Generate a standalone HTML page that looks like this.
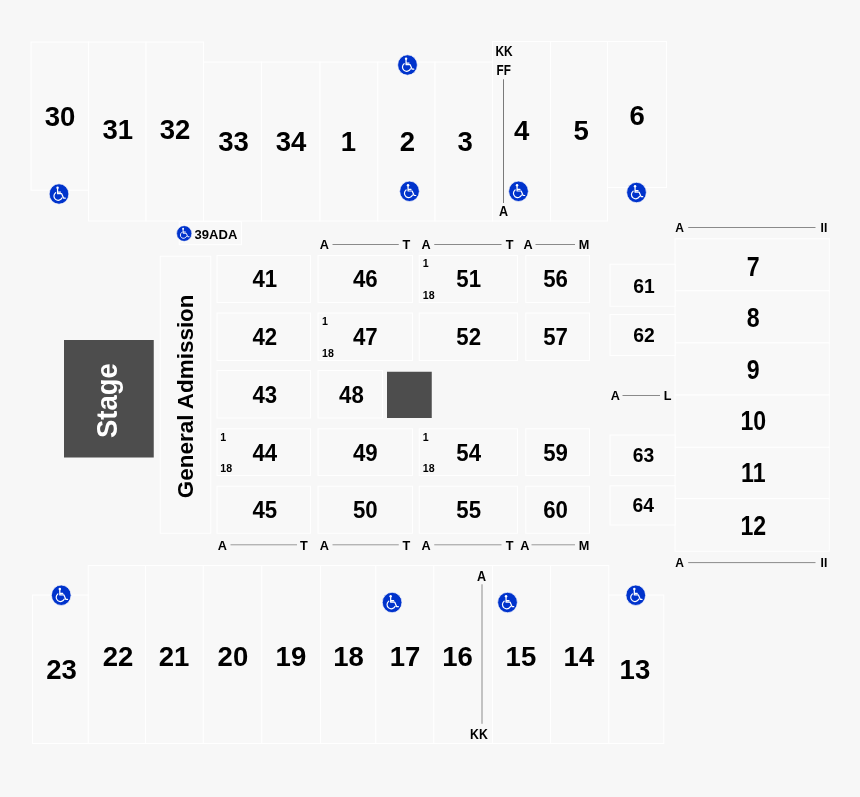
<!DOCTYPE html>
<html lang="en">
<head>
<meta charset="utf-8">
<title>Seating Chart</title>
<style>
html,body{margin:0;padding:0;background:#f7f7f7;}
body{width:860px;height:797px;overflow:hidden;}
svg{display:block;will-change:transform;transform:translateZ(0);}
svg text{font-family:"Liberation Sans",sans-serif;font-weight:bold;}
</style>
</head>
<body>
<svg width="860" height="797" viewBox="0 0 860 797">
<rect width="860" height="797" fill="#f7f7f7"/>
<rect x="31.00" y="42.00" width="57.50" height="148.20" fill="#f8f8f8" stroke="#ffffff" stroke-width="1"/>
<rect x="88.50" y="42.00" width="57.50" height="179.00" fill="#f8f8f8" stroke="#ffffff" stroke-width="1"/>
<rect x="146.00" y="42.00" width="57.50" height="179.00" fill="#f8f8f8" stroke="#ffffff" stroke-width="1"/>
<rect x="203.50" y="62.00" width="58.00" height="159.00" fill="#f8f8f8" stroke="#ffffff" stroke-width="1"/>
<rect x="261.50" y="62.00" width="58.50" height="159.00" fill="#f8f8f8" stroke="#ffffff" stroke-width="1"/>
<rect x="320.00" y="62.00" width="57.75" height="159.00" fill="#f8f8f8" stroke="#ffffff" stroke-width="1"/>
<rect x="377.75" y="62.00" width="57.25" height="159.00" fill="#f8f8f8" stroke="#ffffff" stroke-width="1"/>
<rect x="435.00" y="62.00" width="57.50" height="159.00" fill="#f8f8f8" stroke="#ffffff" stroke-width="1"/>
<rect x="492.50" y="41.50" width="58.00" height="179.50" fill="#f8f8f8" stroke="#ffffff" stroke-width="1"/>
<rect x="550.50" y="41.50" width="57.00" height="179.50" fill="#f8f8f8" stroke="#ffffff" stroke-width="1"/>
<rect x="607.50" y="41.50" width="59.00" height="146.00" fill="#f8f8f8" stroke="#ffffff" stroke-width="1"/>
<text transform="translate(60.00,125.80) scale(1.02,1)" font-size="27.0" fill="#000" text-anchor="middle">30</text>
<text transform="translate(117.75,138.80) scale(1.02,1)" font-size="27.0" fill="#000" text-anchor="middle">31</text>
<text transform="translate(175.00,138.80) scale(1.02,1)" font-size="27.0" fill="#000" text-anchor="middle">32</text>
<text transform="translate(233.50,151.30) scale(1.02,1)" font-size="27.0" fill="#000" text-anchor="middle">33</text>
<text transform="translate(291.10,151.30) scale(1.02,1)" font-size="27.0" fill="#000" text-anchor="middle">34</text>
<text transform="translate(348.50,151.30) scale(1.02,1)" font-size="27.0" fill="#000" text-anchor="middle">1</text>
<text transform="translate(407.50,151.30) scale(1.02,1)" font-size="27.0" fill="#000" text-anchor="middle">2</text>
<text transform="translate(465.10,151.30) scale(1.02,1)" font-size="27.0" fill="#000" text-anchor="middle">3</text>
<text transform="translate(521.60,139.60) scale(1.02,1)" font-size="27.0" fill="#000" text-anchor="middle">4</text>
<text transform="translate(581.25,139.60) scale(1.02,1)" font-size="27.0" fill="#000" text-anchor="middle">5</text>
<text transform="translate(637.25,125.40) scale(1.02,1)" font-size="27.0" fill="#000" text-anchor="middle">6</text>
<rect x="32.50" y="595.00" width="55.75" height="148.50" fill="#f8f8f8" stroke="#ffffff" stroke-width="1"/>
<rect x="88.25" y="565.50" width="57.25" height="178.00" fill="#f8f8f8" stroke="#ffffff" stroke-width="1"/>
<rect x="145.50" y="565.50" width="57.75" height="178.00" fill="#f8f8f8" stroke="#ffffff" stroke-width="1"/>
<rect x="203.25" y="565.50" width="58.50" height="178.00" fill="#f8f8f8" stroke="#ffffff" stroke-width="1"/>
<rect x="261.75" y="565.50" width="58.75" height="178.00" fill="#f8f8f8" stroke="#ffffff" stroke-width="1"/>
<rect x="320.50" y="565.50" width="55.25" height="178.00" fill="#f8f8f8" stroke="#ffffff" stroke-width="1"/>
<rect x="375.75" y="565.50" width="58.00" height="178.00" fill="#f8f8f8" stroke="#ffffff" stroke-width="1"/>
<rect x="433.75" y="565.50" width="58.75" height="178.00" fill="#f8f8f8" stroke="#ffffff" stroke-width="1"/>
<rect x="492.50" y="565.50" width="58.00" height="178.00" fill="#f8f8f8" stroke="#ffffff" stroke-width="1"/>
<rect x="550.50" y="565.50" width="58.25" height="178.00" fill="#f8f8f8" stroke="#ffffff" stroke-width="1"/>
<rect x="608.75" y="595.00" width="55.00" height="148.50" fill="#f8f8f8" stroke="#ffffff" stroke-width="1"/>
<text transform="translate(61.60,678.80) scale(1.02,1)" font-size="27.0" fill="#000" text-anchor="middle">23</text>
<text transform="translate(118.00,665.80) scale(1.02,1)" font-size="27.0" fill="#000" text-anchor="middle">22</text>
<text transform="translate(174.00,665.80) scale(1.02,1)" font-size="27.0" fill="#000" text-anchor="middle">21</text>
<text transform="translate(232.90,665.80) scale(1.02,1)" font-size="27.0" fill="#000" text-anchor="middle">20</text>
<text transform="translate(290.90,665.80) scale(1.02,1)" font-size="27.0" fill="#000" text-anchor="middle">19</text>
<text transform="translate(348.60,665.80) scale(1.02,1)" font-size="27.0" fill="#000" text-anchor="middle">18</text>
<text transform="translate(405.00,665.80) scale(1.02,1)" font-size="27.0" fill="#000" text-anchor="middle">17</text>
<text transform="translate(457.60,665.80) scale(1.02,1)" font-size="27.0" fill="#000" text-anchor="middle">16</text>
<text transform="translate(520.90,665.80) scale(1.02,1)" font-size="27.0" fill="#000" text-anchor="middle">15</text>
<text transform="translate(578.90,665.80) scale(1.02,1)" font-size="27.0" fill="#000" text-anchor="middle">14</text>
<text transform="translate(634.90,678.80) scale(1.02,1)" font-size="27.0" fill="#000" text-anchor="middle">13</text>
<rect x="675.00" y="238.75" width="154.25" height="52.05" fill="#f8f8f8" stroke="#ffffff" stroke-width="1"/>
<rect x="675.00" y="290.80" width="154.25" height="52.10" fill="#f8f8f8" stroke="#ffffff" stroke-width="1"/>
<rect x="675.00" y="342.90" width="154.25" height="52.10" fill="#f8f8f8" stroke="#ffffff" stroke-width="1"/>
<rect x="675.00" y="395.00" width="154.25" height="52.30" fill="#f8f8f8" stroke="#ffffff" stroke-width="1"/>
<rect x="675.00" y="447.30" width="154.25" height="51.40" fill="#f8f8f8" stroke="#ffffff" stroke-width="1"/>
<rect x="675.00" y="498.70" width="154.25" height="52.55" fill="#f8f8f8" stroke="#ffffff" stroke-width="1"/>
<text transform="translate(753.30,275.70) scale(0.857,1)" font-size="27" fill="#000" text-anchor="middle">7</text>
<text transform="translate(753.30,326.50) scale(0.857,1)" font-size="27" fill="#000" text-anchor="middle">8</text>
<text transform="translate(753.30,379.10) scale(0.857,1)" font-size="27" fill="#000" text-anchor="middle">9</text>
<text transform="translate(753.30,430.30) scale(0.857,1)" font-size="27" fill="#000" text-anchor="middle">10</text>
<text transform="translate(753.30,482.10) scale(0.857,1)" font-size="27" fill="#000" text-anchor="middle">11</text>
<text transform="translate(753.30,535.10) scale(0.857,1)" font-size="27" fill="#000" text-anchor="middle">12</text>
<rect x="610.00" y="264.25" width="65.00" height="42.00" fill="#f8f8f8" stroke="#ffffff" stroke-width="1"/>
<text x="644.00" y="292.70" font-size="19.3" fill="#000" text-anchor="middle">61</text>
<rect x="610.00" y="314.50" width="65.00" height="41.00" fill="#f8f8f8" stroke="#ffffff" stroke-width="1"/>
<text x="644.00" y="341.90" font-size="19.3" fill="#000" text-anchor="middle">62</text>
<rect x="610.00" y="435.00" width="65.00" height="40.50" fill="#f8f8f8" stroke="#ffffff" stroke-width="1"/>
<text x="643.60" y="461.90" font-size="19.3" fill="#000" text-anchor="middle">63</text>
<rect x="610.00" y="485.75" width="65.00" height="39.25" fill="#f8f8f8" stroke="#ffffff" stroke-width="1"/>
<text x="643.20" y="511.90" font-size="19.3" fill="#000" text-anchor="middle">64</text>
<rect x="217.00" y="255.50" width="93.50" height="47.00" fill="#f8f8f8" stroke="#ffffff" stroke-width="1"/>
<text transform="translate(264.80,287.30) scale(0.955,1)" font-size="23.3" fill="#000" text-anchor="middle">41</text>
<rect x="217.00" y="313.00" width="93.50" height="47.50" fill="#f8f8f8" stroke="#ffffff" stroke-width="1"/>
<text transform="translate(264.80,344.90) scale(0.955,1)" font-size="23.3" fill="#000" text-anchor="middle">42</text>
<rect x="217.00" y="370.50" width="93.50" height="47.50" fill="#f8f8f8" stroke="#ffffff" stroke-width="1"/>
<text transform="translate(264.80,402.50) scale(0.955,1)" font-size="23.3" fill="#000" text-anchor="middle">43</text>
<rect x="217.00" y="428.75" width="93.50" height="46.75" fill="#f8f8f8" stroke="#ffffff" stroke-width="1"/>
<text transform="translate(264.80,460.90) scale(0.955,1)" font-size="23.3" fill="#000" text-anchor="middle">44</text>
<rect x="217.00" y="486.25" width="93.50" height="47.00" fill="#f8f8f8" stroke="#ffffff" stroke-width="1"/>
<text transform="translate(264.80,518.10) scale(0.955,1)" font-size="23.3" fill="#000" text-anchor="middle">45</text>
<rect x="318.00" y="255.50" width="94.50" height="47.00" fill="#f8f8f8" stroke="#ffffff" stroke-width="1"/>
<text transform="translate(365.30,287.30) scale(0.955,1)" font-size="23.3" fill="#000" text-anchor="middle">46</text>
<rect x="318.00" y="313.00" width="94.50" height="47.50" fill="#f8f8f8" stroke="#ffffff" stroke-width="1"/>
<text transform="translate(365.30,344.90) scale(0.955,1)" font-size="23.3" fill="#000" text-anchor="middle">47</text>
<rect x="318.00" y="370.50" width="64.50" height="47.50" fill="#f8f8f8" stroke="#ffffff" stroke-width="1"/>
<text transform="translate(351.40,402.50) scale(0.955,1)" font-size="23.3" fill="#000" text-anchor="middle">48</text>
<rect x="318.00" y="428.75" width="94.50" height="46.75" fill="#f8f8f8" stroke="#ffffff" stroke-width="1"/>
<text transform="translate(365.30,460.90) scale(0.955,1)" font-size="23.3" fill="#000" text-anchor="middle">49</text>
<rect x="318.00" y="486.25" width="94.50" height="47.00" fill="#f8f8f8" stroke="#ffffff" stroke-width="1"/>
<text transform="translate(365.30,518.10) scale(0.955,1)" font-size="23.3" fill="#000" text-anchor="middle">50</text>
<rect x="419.25" y="255.50" width="98.25" height="47.00" fill="#f8f8f8" stroke="#ffffff" stroke-width="1"/>
<text transform="translate(468.70,287.30) scale(0.955,1)" font-size="23.3" fill="#000" text-anchor="middle">51</text>
<rect x="419.25" y="313.00" width="98.25" height="47.50" fill="#f8f8f8" stroke="#ffffff" stroke-width="1"/>
<text transform="translate(468.70,344.90) scale(0.955,1)" font-size="23.3" fill="#000" text-anchor="middle">52</text>
<rect x="419.25" y="428.75" width="98.25" height="46.75" fill="#f8f8f8" stroke="#ffffff" stroke-width="1"/>
<text transform="translate(468.70,460.90) scale(0.955,1)" font-size="23.3" fill="#000" text-anchor="middle">54</text>
<rect x="419.25" y="486.25" width="98.25" height="47.00" fill="#f8f8f8" stroke="#ffffff" stroke-width="1"/>
<text transform="translate(468.70,518.10) scale(0.955,1)" font-size="23.3" fill="#000" text-anchor="middle">55</text>
<rect x="525.75" y="255.50" width="63.75" height="47.00" fill="#f8f8f8" stroke="#ffffff" stroke-width="1"/>
<text transform="translate(555.50,287.30) scale(0.955,1)" font-size="23.3" fill="#000" text-anchor="middle">56</text>
<rect x="525.75" y="313.00" width="63.75" height="47.50" fill="#f8f8f8" stroke="#ffffff" stroke-width="1"/>
<text transform="translate(555.50,344.90) scale(0.955,1)" font-size="23.3" fill="#000" text-anchor="middle">57</text>
<rect x="525.75" y="428.75" width="63.75" height="46.75" fill="#f8f8f8" stroke="#ffffff" stroke-width="1"/>
<text transform="translate(555.50,460.90) scale(0.955,1)" font-size="23.3" fill="#000" text-anchor="middle">59</text>
<rect x="525.75" y="486.25" width="63.75" height="47.00" fill="#f8f8f8" stroke="#ffffff" stroke-width="1"/>
<text transform="translate(555.50,518.10) scale(0.955,1)" font-size="23.3" fill="#000" text-anchor="middle">60</text>
<rect x="387" y="371.75" width="44.75" height="46.25" fill="#4d4d4d"/>
<text x="220.30" y="440.65" font-size="10.6" fill="#000" text-anchor="start">1</text>
<text x="220.30" y="472.35" font-size="10.6" fill="#000" text-anchor="start">18</text>
<text x="322.00" y="324.90" font-size="10.6" fill="#000" text-anchor="start">1</text>
<text x="322.00" y="356.60" font-size="10.6" fill="#000" text-anchor="start">18</text>
<text x="422.80" y="267.40" font-size="10.6" fill="#000" text-anchor="start">1</text>
<text x="422.80" y="299.10" font-size="10.6" fill="#000" text-anchor="start">18</text>
<text x="422.80" y="440.65" font-size="10.6" fill="#000" text-anchor="start">1</text>
<text x="422.80" y="472.35" font-size="10.6" fill="#000" text-anchor="start">18</text>
<rect x="160.25" y="256.25" width="50.50" height="277.00" fill="#f8f8f8" stroke="#ffffff" stroke-width="1"/>
<text transform="translate(193.1,396.3) rotate(-90) scale(0.985,1)" font-size="22.8" text-anchor="middle" fill="#000">General Admission</text>
<rect x="64" y="340" width="89.75" height="117.5" fill="#4d4d4d"/>
<text transform="translate(117.1,400.6) rotate(-90) scale(0.926,1)" font-size="29.7" text-anchor="middle" fill="#fff">Stage</text>
<rect x="179.20" y="221.60" width="62.20" height="23.05" fill="#f8f8f8" stroke="#ffffff" stroke-width="1"/>
<g transform="translate(184.20,233.50) scale(0.790)"><ellipse rx="9.6" ry="9.95" fill="#0033cc" stroke="#fcfcfc" stroke-width="0.7"/><circle cx="-1.4" cy="-6.0" r="1.2" fill="#fff"/><path d="M-1.4 -5.2 V-0.3 H2.6 L4.5 4.1 H6.1 M-1.4 -1.9 H1.5" fill="none" stroke="#fff" stroke-width="1.2" stroke-linejoin="round" stroke-linecap="round"/><path d="M-3.3 -1.3 A4.15 4.15 0 1 0 3.0 3.7" fill="none" stroke="#fff" stroke-width="1.15" stroke-linecap="round"/></g>
<text transform="translate(215.90,238.50) scale(0.96,1)" font-size="13.6" fill="#000" text-anchor="middle">39ADA</text>
<text x="324.40" y="248.90" font-size="12.7" fill="#000" text-anchor="middle">A</text>
<text x="406.30" y="248.90" font-size="12.7" fill="#000" text-anchor="middle">T</text>
<line x1="332.50" y1="244.50" x2="398.75" y2="244.50" stroke="#8a8a8a" stroke-width="1"/>
<text x="426.10" y="248.90" font-size="12.7" fill="#000" text-anchor="middle">A</text>
<text x="509.60" y="248.90" font-size="12.7" fill="#000" text-anchor="middle">T</text>
<line x1="434.25" y1="244.50" x2="501.50" y2="244.50" stroke="#8a8a8a" stroke-width="1"/>
<text x="528.10" y="248.90" font-size="12.7" fill="#000" text-anchor="middle">A</text>
<text x="584.00" y="248.90" font-size="12.7" fill="#000" text-anchor="middle">M</text>
<line x1="535.50" y1="244.50" x2="575.00" y2="244.50" stroke="#8a8a8a" stroke-width="1"/>
<text x="222.30" y="549.70" font-size="12.7" fill="#000" text-anchor="middle">A</text>
<text x="304.00" y="549.70" font-size="12.7" fill="#000" text-anchor="middle">T</text>
<line x1="230.50" y1="544.80" x2="297.00" y2="544.80" stroke="#999" stroke-width="1"/>
<text x="324.40" y="549.70" font-size="12.7" fill="#000" text-anchor="middle">A</text>
<text x="406.30" y="549.70" font-size="12.7" fill="#000" text-anchor="middle">T</text>
<line x1="332.50" y1="544.80" x2="398.75" y2="544.80" stroke="#999" stroke-width="1"/>
<text x="426.10" y="549.70" font-size="12.7" fill="#000" text-anchor="middle">A</text>
<text x="509.60" y="549.70" font-size="12.7" fill="#000" text-anchor="middle">T</text>
<line x1="434.25" y1="544.80" x2="501.50" y2="544.80" stroke="#999" stroke-width="1"/>
<text x="524.90" y="549.70" font-size="12.7" fill="#000" text-anchor="middle">A</text>
<text x="584.00" y="549.70" font-size="12.7" fill="#000" text-anchor="middle">M</text>
<line x1="531.50" y1="544.80" x2="575.00" y2="544.80" stroke="#999" stroke-width="1"/>
<text transform="translate(679.70,232.20) scale(0.9,1)" font-size="13.4" fill="#000" text-anchor="middle">A</text>
<text transform="translate(823.90,232.20) scale(0.9,1)" font-size="13.4" fill="#000" text-anchor="middle">II</text>
<line x1="688.20" y1="227.50" x2="815.50" y2="227.50" stroke="#8a8a8a" stroke-width="1"/>
<text transform="translate(679.70,567.00) scale(0.9,1)" font-size="13.4" fill="#000" text-anchor="middle">A</text>
<text transform="translate(823.90,567.00) scale(0.9,1)" font-size="13.4" fill="#000" text-anchor="middle">II</text>
<line x1="688.20" y1="562.60" x2="815.50" y2="562.60" stroke="#8a8a8a" stroke-width="1"/>
<text transform="translate(615.20,400.10) scale(0.93,1)" font-size="13.6" fill="#000" text-anchor="middle">A</text>
<text transform="translate(667.50,400.10) scale(0.93,1)" font-size="13.6" fill="#000" text-anchor="middle">L</text>
<line x1="622.50" y1="395.50" x2="660.00" y2="395.50" stroke="#8a8a8a" stroke-width="1"/>
<text transform="translate(504.10,55.90) scale(0.835,1)" font-size="14.3" fill="#000" text-anchor="middle">KK</text>
<text transform="translate(503.70,74.70) scale(0.82,1)" font-size="14.3" fill="#000" text-anchor="middle">FF</text>
<line x1="503.50" y1="79.30" x2="503.50" y2="203.00" stroke="#7a7a7a" stroke-width="1"/>
<text transform="translate(503.50,216.40) scale(0.91,1)" font-size="13.8" fill="#000" text-anchor="middle">A</text>
<text transform="translate(481.60,580.80) scale(0.91,1)" font-size="13.8" fill="#000" text-anchor="middle">A</text>
<line x1="482.00" y1="584.30" x2="482.00" y2="723.80" stroke="#8c8c8c" stroke-width="1"/>
<text transform="translate(478.90,738.50) scale(0.86,1)" font-size="14.3" fill="#000" text-anchor="middle">KK</text>
<g transform="translate(59.00,194.00) scale(1.026)"><ellipse rx="9.6" ry="9.95" fill="#0033cc" stroke="#fcfcfc" stroke-width="0.7"/><circle cx="-1.4" cy="-6.0" r="1.2" fill="#fff"/><path d="M-1.4 -5.2 V-0.3 H2.6 L4.5 4.1 H6.1 M-1.4 -1.9 H1.5" fill="none" stroke="#fff" stroke-width="1.2" stroke-linejoin="round" stroke-linecap="round"/><path d="M-3.3 -1.3 A4.15 4.15 0 1 0 3.0 3.7" fill="none" stroke="#fff" stroke-width="1.15" stroke-linecap="round"/></g>
<g transform="translate(407.50,65.00) scale(1.026)"><ellipse rx="9.6" ry="9.95" fill="#0033cc" stroke="#fcfcfc" stroke-width="0.7"/><circle cx="-1.4" cy="-6.0" r="1.2" fill="#fff"/><path d="M-1.4 -5.2 V-0.3 H2.6 L4.5 4.1 H6.1 M-1.4 -1.9 H1.5" fill="none" stroke="#fff" stroke-width="1.2" stroke-linejoin="round" stroke-linecap="round"/><path d="M-3.3 -1.3 A4.15 4.15 0 1 0 3.0 3.7" fill="none" stroke="#fff" stroke-width="1.15" stroke-linecap="round"/></g>
<g transform="translate(409.50,191.30) scale(1.026)"><ellipse rx="9.6" ry="9.95" fill="#0033cc" stroke="#fcfcfc" stroke-width="0.7"/><circle cx="-1.4" cy="-6.0" r="1.2" fill="#fff"/><path d="M-1.4 -5.2 V-0.3 H2.6 L4.5 4.1 H6.1 M-1.4 -1.9 H1.5" fill="none" stroke="#fff" stroke-width="1.2" stroke-linejoin="round" stroke-linecap="round"/><path d="M-3.3 -1.3 A4.15 4.15 0 1 0 3.0 3.7" fill="none" stroke="#fff" stroke-width="1.15" stroke-linecap="round"/></g>
<g transform="translate(518.50,191.30) scale(1.026)"><ellipse rx="9.6" ry="9.95" fill="#0033cc" stroke="#fcfcfc" stroke-width="0.7"/><circle cx="-1.4" cy="-6.0" r="1.2" fill="#fff"/><path d="M-1.4 -5.2 V-0.3 H2.6 L4.5 4.1 H6.1 M-1.4 -1.9 H1.5" fill="none" stroke="#fff" stroke-width="1.2" stroke-linejoin="round" stroke-linecap="round"/><path d="M-3.3 -1.3 A4.15 4.15 0 1 0 3.0 3.7" fill="none" stroke="#fff" stroke-width="1.15" stroke-linecap="round"/></g>
<g transform="translate(636.50,192.50) scale(1.026)"><ellipse rx="9.6" ry="9.95" fill="#0033cc" stroke="#fcfcfc" stroke-width="0.7"/><circle cx="-1.4" cy="-6.0" r="1.2" fill="#fff"/><path d="M-1.4 -5.2 V-0.3 H2.6 L4.5 4.1 H6.1 M-1.4 -1.9 H1.5" fill="none" stroke="#fff" stroke-width="1.2" stroke-linejoin="round" stroke-linecap="round"/><path d="M-3.3 -1.3 A4.15 4.15 0 1 0 3.0 3.7" fill="none" stroke="#fff" stroke-width="1.15" stroke-linecap="round"/></g>
<g transform="translate(61.25,595.25) scale(1.026)"><ellipse rx="9.6" ry="9.95" fill="#0033cc" stroke="#fcfcfc" stroke-width="0.7"/><circle cx="-1.4" cy="-6.0" r="1.2" fill="#fff"/><path d="M-1.4 -5.2 V-0.3 H2.6 L4.5 4.1 H6.1 M-1.4 -1.9 H1.5" fill="none" stroke="#fff" stroke-width="1.2" stroke-linejoin="round" stroke-linecap="round"/><path d="M-3.3 -1.3 A4.15 4.15 0 1 0 3.0 3.7" fill="none" stroke="#fff" stroke-width="1.15" stroke-linecap="round"/></g>
<g transform="translate(392.10,602.50) scale(1.026)"><ellipse rx="9.6" ry="9.95" fill="#0033cc" stroke="#fcfcfc" stroke-width="0.7"/><circle cx="-1.4" cy="-6.0" r="1.2" fill="#fff"/><path d="M-1.4 -5.2 V-0.3 H2.6 L4.5 4.1 H6.1 M-1.4 -1.9 H1.5" fill="none" stroke="#fff" stroke-width="1.2" stroke-linejoin="round" stroke-linecap="round"/><path d="M-3.3 -1.3 A4.15 4.15 0 1 0 3.0 3.7" fill="none" stroke="#fff" stroke-width="1.15" stroke-linecap="round"/></g>
<g transform="translate(507.50,602.50) scale(1.026)"><ellipse rx="9.6" ry="9.95" fill="#0033cc" stroke="#fcfcfc" stroke-width="0.7"/><circle cx="-1.4" cy="-6.0" r="1.2" fill="#fff"/><path d="M-1.4 -5.2 V-0.3 H2.6 L4.5 4.1 H6.1 M-1.4 -1.9 H1.5" fill="none" stroke="#fff" stroke-width="1.2" stroke-linejoin="round" stroke-linecap="round"/><path d="M-3.3 -1.3 A4.15 4.15 0 1 0 3.0 3.7" fill="none" stroke="#fff" stroke-width="1.15" stroke-linecap="round"/></g>
<g transform="translate(635.75,595.25) scale(1.026)"><ellipse rx="9.6" ry="9.95" fill="#0033cc" stroke="#fcfcfc" stroke-width="0.7"/><circle cx="-1.4" cy="-6.0" r="1.2" fill="#fff"/><path d="M-1.4 -5.2 V-0.3 H2.6 L4.5 4.1 H6.1 M-1.4 -1.9 H1.5" fill="none" stroke="#fff" stroke-width="1.2" stroke-linejoin="round" stroke-linecap="round"/><path d="M-3.3 -1.3 A4.15 4.15 0 1 0 3.0 3.7" fill="none" stroke="#fff" stroke-width="1.15" stroke-linecap="round"/></g>
</svg>
</body>
</html>
